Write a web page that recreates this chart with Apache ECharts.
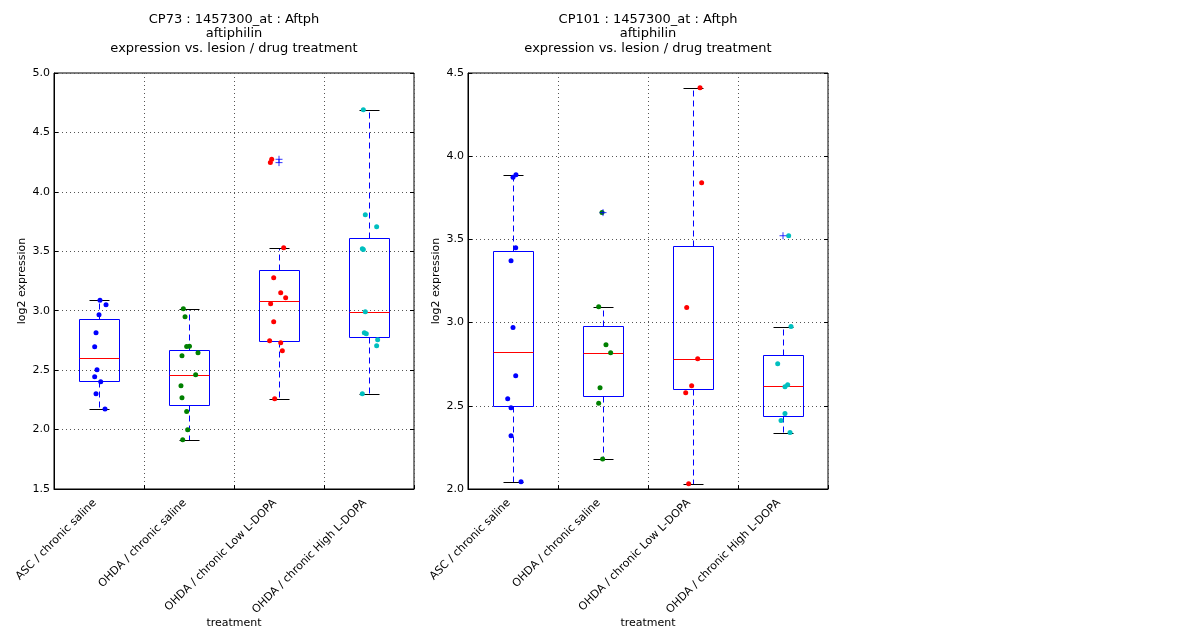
<!doctype html>
<html>
<head>
	<meta charset="utf-8">
	<title>Aftph expression</title>
	<style>
		html, body { margin: 0; padding: 0; background: #fff; }
		#main { width: 1200px; height: 640px; }
	</style>
</head>
<body>
<div id="main"></div>
<script src="https://cdn.jsdelivr.net/npm/echarts@6/dist/echarts.min.js"></script>
<script>
	// categories (treatment groups)
	var categories = ['ASC / chronic saline', 'OHDA / chronic saline', 'OHDA / chronic Low L-DOPA', 'OHDA / chronic High L-DOPA']
	var pointColors = ['#0000ff', '#008000', '#ff0000', '#00bfbf']

	// CP73 - individual samples per group, with horizontal jitter
	var cp73Values = [
		[3.088, 3.051, 2.967, 2.815, 2.697, 2.504, 2.445, 2.403, 2.302, 2.173],
		[3.017, 2.950, 2.698, 2.700, 2.622, 2.647, 2.462, 2.369, 2.268, 2.151, 1.999, 1.915],
		[4.274, 4.246, 3.530, 3.278, 3.152, 3.110, 3.059, 2.908, 2.748, 2.731, 2.664, 2.260],
		[4.691, 3.808, 3.707, 3.522, 3.514, 2.992, 2.815, 2.807, 2.756, 2.706, 2.302]
	]
	var cp73Jitter = [
		[0.011, 0.078, 0.000, -0.033, -0.048, -0.022, -0.048, 0.019, -0.033, 0.067],
		[-0.063, -0.044, -0.026, 0.005, -0.078, 0.100, 0.074, -0.089, -0.078, -0.026, -0.015, -0.070],
		[-0.081, -0.096, 0.052, -0.059, 0.019, 0.074, -0.093, -0.059, -0.104, 0.019, 0.037, -0.048],
		[-0.063, -0.041, 0.085, -0.074, -0.063, -0.041, -0.052, -0.030, 0.096, 0.085, -0.074]
	]
	// low whisker, q1, median, q3, high whisker
	var cp73Box = [
		[2.170, 2.406, 2.602, 2.928, 3.086],
		[1.912, 2.207, 2.459, 2.667, 3.012],
		[2.254, 2.742, 3.082, 3.340, 3.525],
		[2.299, 2.776, 2.986, 3.609, 4.686]
	]
	var cp73Outliers = [[2, 4.274], [2, 4.246]]

	// CP101
	var cp101Values = [
		[3.889, 3.873, 3.450, 3.372, 2.970, 2.681, 2.543, 2.489, 2.320, 2.044],
		[3.661, 3.096, 2.867, 2.819, 2.609, 2.515, 2.180],
		[4.412, 3.841, 3.090, 2.783, 2.621, 2.579, 2.032],
		[3.522, 2.976, 2.753, 2.615, 2.627, 2.453, 2.411, 2.339]
	]
	var cp101Jitter = [
		[0.033, 0.000, 0.030, -0.022, 0.000, 0.030, -0.059, -0.022, -0.022, 0.089],
		[-0.011, -0.048, 0.033, 0.085, -0.033, -0.048, -0.004],
		[0.078, 0.096, -0.070, 0.052, -0.015, -0.081, -0.048],
		[0.063, 0.089, -0.059, 0.022, 0.052, 0.022, -0.022, 0.078]
	]
	var cp101Box = [
		[2.042, 2.499, 2.821, 3.428, 3.885],
		[2.180, 2.559, 2.815, 2.978, 3.092],
		[2.028, 2.599, 2.779, 3.458, 4.408],
		[2.335, 2.437, 2.617, 2.803, 2.972]
	]
	var cp101Outliers = [[1, 3.661], [3, 3.522]]

	var panels = [
		{ title: 'CP73 : 1457300_at : Aftph\naftiphilin\nexpression vs. lesion / drug treatment', left: 54, min: 1.5, max: 5.0, values: cp73Values, jitter: cp73Jitter, box: cp73Box, outliers: cp73Outliers },
		{ title: 'CP101 : 1457300_at : Aftph\naftiphilin\nexpression vs. lesion / drug treatment', left: 468, min: 2.0, max: 4.5, values: cp101Values, jitter: cp101Jitter, box: cp101Box, outliers: cp101Outliers }
	]

	var FONT = 'DejaVu Sans'
	var PW = 360

	// snap 1px lines onto pixel centres so they stay crisp
	function px(v) { return Math.round(v) + 0.5 }

	function whisker(x, y1, y2) {
		return { type: 'line', shape: { x1: x, y1: y1, x2: x, y2: y2 }, style: { stroke: '#0000ff', lineWidth: 1, lineDash: [6, 4] } }
	}
	function hline(x1, x2, y, color) {
		return { type: 'line', shape: { x1: x1, y1: y, x2: x2, y2: y }, style: { stroke: color, lineWidth: 1 } }
	}

	function renderBox(params, api) {
		var idx = api.value(0)
		var band = api.size([1, 0])[0]
		var hw = Math.round(band * 0.225)
		var cw = Math.round(band * 0.115)
		var x = px(api.coord([idx, api.value(3)])[0])
		var yLow = px(api.coord([idx, api.value(1)])[1])
		var yQ1 = px(api.coord([idx, api.value(2)])[1])
		var yMed = px(api.coord([idx, api.value(3)])[1])
		var yQ3 = px(api.coord([idx, api.value(4)])[1])
		var yHigh = px(api.coord([idx, api.value(5)])[1])
		return {
			type: 'group',
			children: [
				whisker(x, yQ3, yHigh),
				whisker(x, yQ1, yLow),
				hline(x - cw, x + cw, yHigh, '#000000'),
				hline(x - cw, x + cw, yLow, '#000000'),
				{ type: 'rect', shape: { x: x - hw, y: yQ3, width: hw * 2, height: yQ1 - yQ3 }, style: { stroke: '#0000ff', lineWidth: 1, fill: null } },
				hline(x - hw, x + hw, yMed, '#ff0000')
			]
		}
	}

	var option = {
		animation: false,
		backgroundColor: '#fff',
		textStyle: { fontFamily: FONT },
		title: [], grid: [], xAxis: [], yAxis: [], series: []
	}

	panels.forEach(function (p, k) {
		option.title.push({
			text: p.title,
			left: p.left + PW / 2, top: 12, padding: 0, textAlign: 'center',
			textStyle: { fontFamily: FONT, fontSize: 13, fontWeight: 'normal', color: '#000', lineHeight: 14.5 }
		})
		option.grid.push({ left: p.left, top: 73, width: PW, height: 416, show: true, borderColor: '#000', borderWidth: 1, backgroundColor: 'transparent' })
		// visible category axis
		option.xAxis.push({
			type: 'category', gridIndex: k, data: categories, boundaryGap: true,
			name: 'treatment', nameLocation: 'middle', nameGap: 129, nameMoveOverlap: false,
			nameTextStyle: { fontFamily: FONT, fontSize: 11, color: '#000' },
			axisLine: { onZero: false, lineStyle: { color: '#000' } },
			axisTick: { show: true, inside: true, length: 4, lineStyle: { color: '#000' } },
			axisLabel: { rotate: 45, interval: 0, margin: 8, padding: [0, 6, 0, 0], fontFamily: FONT, fontSize: 11, color: '#000' },
			splitLine: { show: true, interval: 0, lineStyle: { color: '#555', type: [1, 3] } }
		})
		// hidden value axis for jittered points
		option.xAxis.push({ type: 'value', gridIndex: k, min: -0.5, max: 3.5, show: false })
		option.yAxis.push({
			type: 'value', gridIndex: k, min: p.min, max: p.max, interval: 0.5,
			name: 'log2 expression', nameLocation: 'middle', nameGap: 26, nameMoveOverlap: false,
			nameTextStyle: { fontFamily: FONT, fontSize: 11, color: '#000' },
			axisLine: { show: true, onZero: false, lineStyle: { color: '#000' } },
			axisTick: { show: true, inside: true, length: 4, lineStyle: { color: '#000' } },
			axisLabel: { margin: 4, fontFamily: FONT, fontSize: 11, color: '#000', formatter: function (v) { return v.toFixed(1) } },
			splitLine: { show: true, lineStyle: { color: '#555', type: [1, 3] } }
		})
		option.yAxis.push({
			type: 'value', gridIndex: k, position: 'right', min: p.min, max: p.max, interval: 0.5,
			axisLine: { show: false, onZero: false }, axisLabel: { show: false }, splitLine: { show: false },
			axisTick: { show: true, inside: true, length: 4, lineStyle: { color: '#000' } }
		})
		var catX = k * 2, valX = k * 2 + 1, yIdx = k * 2
		option.series.push({
			type: 'custom', xAxisIndex: catX, yAxisIndex: yIdx, z: 2,
			renderItem: renderBox,
			data: p.box.map(function (b, i) { return [i].concat(b) })
		})
		p.values.forEach(function (vals, g) {
			option.series.push({
				type: 'scatter', xAxisIndex: valX, yAxisIndex: yIdx, z: 3,
				symbol: 'circle', symbolSize: 5,
				itemStyle: { color: pointColors[g], opacity: 1 },
				data: vals.map(function (v, j) { return [g + p.jitter[g][j], v] })
			})
		})
		option.series.push({
			type: 'scatter', xAxisIndex: valX, yAxisIndex: yIdx, z: 4,
			symbol: 'path://M0,5L10,5M5,0L5,10', symbolSize: 7,
			itemStyle: { color: 'none', borderColor: '#0000ff', borderWidth: 1 },
			data: p.outliers
		})
	})

	var myChart = echarts.init(document.getElementById('main'))
	myChart.setOption(option)
</script>
</body>
</html>
